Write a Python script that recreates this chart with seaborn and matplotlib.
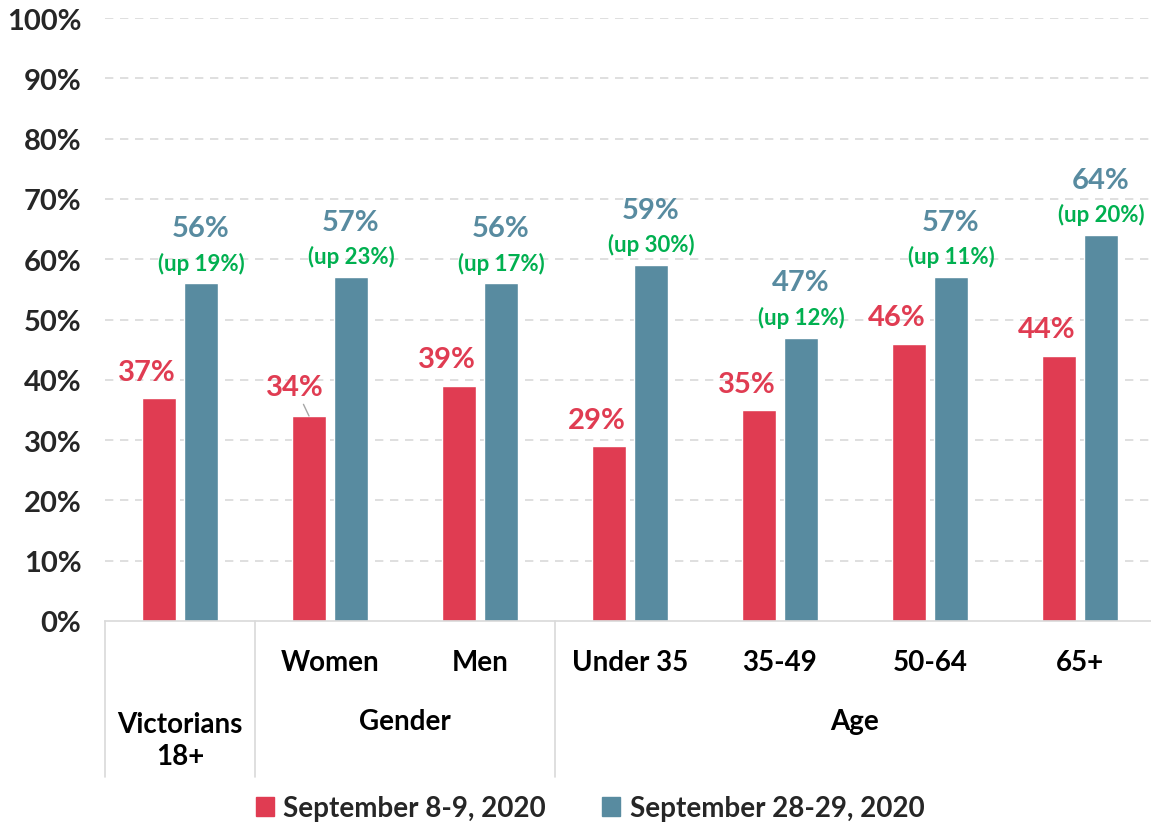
import numpy as np
import pandas as pd
import matplotlib
matplotlib.use("Agg")
import matplotlib.pyplot as plt
import matplotlib.patches as mpatches
import matplotlib.transforms as mtrans
import seaborn as sns

# ── Données ────────────────────────────────────────────────────────────────
categories = ["Victorians 18+", "Women", "Men", "Under 35", "35-49", "50-64", "65+"]
tick_labels = ["", "Women", "Men", "Under 35", "35-49", "50-64", "65+"]
periods = ["September 8-9, 2020", "September 28-29, 2020"]
sept_8_9 = [37, 34, 39, 29, 35, 46, 44]
sept_28_29 = [56, 57, 56, 59, 47, 57, 64]
up_labels = ["(up 19%)", "(up 23%)", "(up 17%)", "(up 30%)", "(up 12%)", "(up 11%)", "(up 20%)"]
groups = ["Victorians\n18+", "Gender", "Age"]
group_centers = [0, 1.5, 4.5]
group_bounds = [-0.5, 0.5, 2.5]

red = "#E03C52"
blue = "#588BA0"
green = "#00B050"

df = pd.DataFrame({
    "category": categories * 2,
    "period": [periods[0]] * len(categories) + [periods[1]] * len(categories),
    "value": sept_8_9 + sept_28_29,
})

sns.set_theme(style="white")
plt.rcParams["font.family"] = ["Lato", "DejaVu Sans"]
plt.rcParams["font.weight"] = "bold"

fig = plt.figure(figsize=(11.51, 8.28), dpi=100)
ax = fig.add_axes([105 / 1151, (828 - 622) / 828, 1050 / 1151, 603 / 828])

sns.barplot(data=df, x="category", y="value", hue="period", order=categories,
            hue_order=periods, palette=[red, blue], saturation=1,
            width=0.56, gap=0.18, legend=False, ax=ax)

ax.set_xlim(-0.5, 6.5)
ax.set_ylim(0, 100)
ax.set_yticks(np.arange(0, 101, 10))
ax.set_yticklabels([f"{v}%" for v in range(0, 101, 10)], fontsize=21, fontweight="bold")
ax.tick_params(axis="y", length=0, pad=17)
ax.set_xticks(range(len(categories)))
ax.set_xticklabels([])
ax.tick_params(axis="x", length=0)
ax.set_xlabel("")
ax.set_ylabel("")
for v in range(10, 101, 10):
    ax.axhline(v, color="#D9D9D9", lw=1.2, ls=(0, (5, 4)), zorder=0)
for s in ["top", "right", "left"]:
    ax.spines[s].set_visible(False)
ax.spines["bottom"].set_color("#D9D9D9")
ax.spines["bottom"].set_linewidth(1.2)

# ── Étiquettes des barres ──────────────────────────────────────────────────
red_bars = ax.containers[0]
blue_bars = ax.containers[1]
for i, bar in enumerate(red_bars):
    xc = bar.get_x() + bar.get_width() / 2
    h = bar.get_height()
    if i == 1:
        ax.annotate(f"{sept_8_9[i]}%", xy=(xc, h), xytext=(-10, 21), textcoords="offset points",
                    ha="center", va="center", fontsize=21, fontweight="bold", color=red,
                    arrowprops=dict(arrowstyle="-", color="#A6A6A6", lw=1,
                                    shrinkA=1, shrinkB=0))
    else:
        ax.annotate(f"{sept_8_9[i]}%", xy=(xc, h), xytext=(-9, 19), textcoords="offset points",
                    ha="center", va="center", fontsize=21, fontweight="bold", color=red)
for i, bar in enumerate(blue_bars):
    xc = bar.get_x() + bar.get_width() / 2
    h = bar.get_height()
    ax.annotate(up_labels[i], xy=(xc, h), xytext=(0, 15), textcoords="offset points",
                ha="center", va="center", fontsize=16, fontweight="bold", color=green)
    ax.annotate(f"{sept_28_29[i]}%", xy=(xc, h), xytext=(0, 40), textcoords="offset points",
                ha="center", va="center", fontsize=21, fontweight="bold", color=blue)

# ── Axe des catégories à deux niveaux ──────────────────────────────────────
trans = mtrans.blended_transform_factory(ax.transData, ax.transAxes)
for i, lab in enumerate(tick_labels):
    if lab:
        ax.text(i, -41 / 603, lab, transform=trans, ha="center", va="center",
                fontsize=20, fontweight="bold", color="black")
for g, c in zip(groups, group_centers):
    yy = -119 / 603 if "\n" in g else -100 / 603
    ax.text(c, yy, g, transform=trans, ha="center", va="center",
            fontsize=20, fontweight="bold", color="black", linespacing=1.3)
for b in group_bounds + [6.5]:
    ax.plot([b, b], [0, -156 / 603], transform=trans, color="#D9D9D9",
            lw=1.2, clip_on=False)

# ── Légende ────────────────────────────────────────────────────────────────
handles = [mpatches.Patch(color=red, label=periods[0]),
           mpatches.Patch(color=blue, label=periods[1])]
fig.legend(handles=handles, loc="center", bbox_to_anchor=(590 / 1151, 1 - 809 / 828),
           ncol=2, frameon=False, prop={"size": 20, "weight": "bold"},
           handlelength=0.65, handleheight=0.65, handletextpad=0.35, columnspacing=2.0)

fig.savefig("out.png", dpi=100)
plt.close()
